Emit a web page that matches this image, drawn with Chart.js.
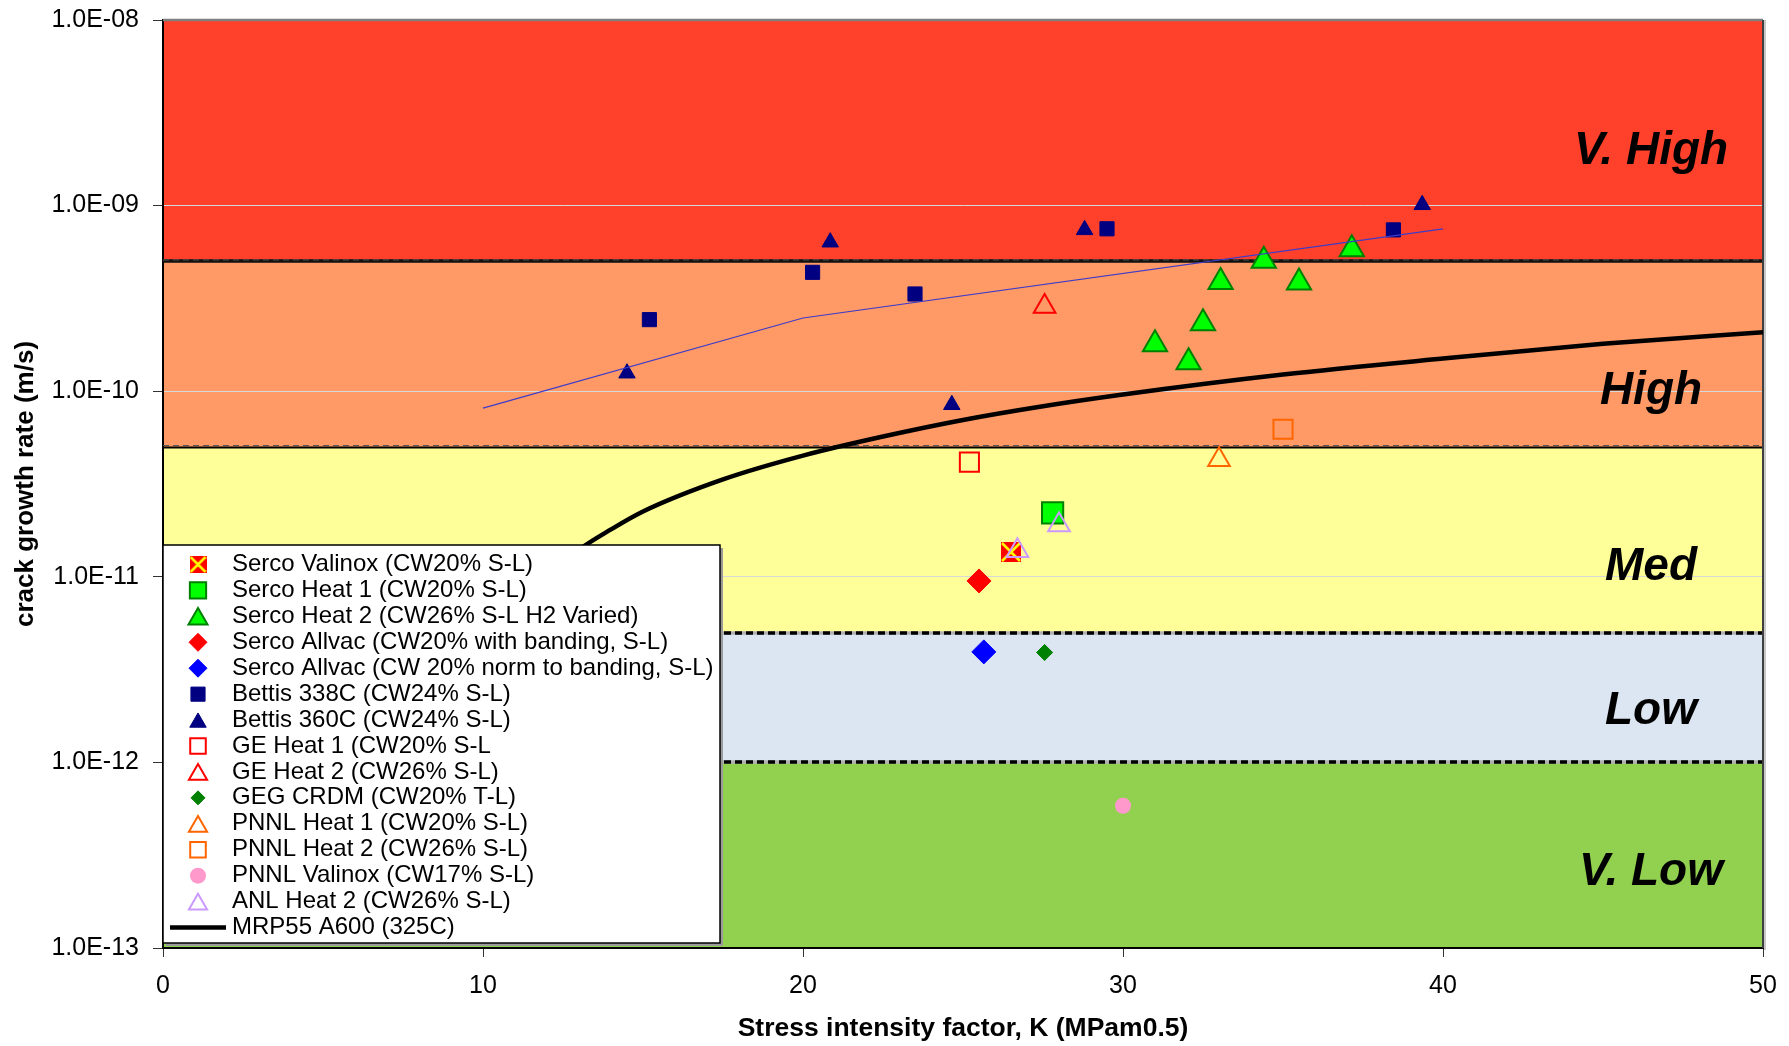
<!DOCTYPE html>
<html lang="en">
<head>
<meta charset="UTF-8">
<title>Crack growth rate vs stress intensity</title>
<script src="https://cdn.jsdelivr.net/npm/chart.js@4"></script>
<style>
    body { margin: 0; padding: 0; background: #fff; }
    #chartCanvas { display: block; }
</style>
</head>
<body>
<canvas id="chartCanvas" width="1789" height="1046"></canvas>
<script>
// axis ticks
const xTicks = [0, 10, 20, 30, 40, 50];
const yTicks = [1e-13, 1e-12, 1e-11, 1e-10, 1e-9, 1e-8];
const yTickLabels = ['1.0E-13', '1.0E-12', '1.0E-11', '1.0E-10', '1.0E-09', '1.0E-08'];

// rate bands (m/s)
const bandNames = ['V. High', 'High', 'Med', 'Low', 'V. Low'];
const bandTop = [1e-8, 5e-10, 5e-11, 5e-12, 1e-12];
const bandBottom = [5e-10, 5e-11, 5e-12, 1e-12, 1e-13];

// measured points, K in MPa.m^0.5, rate in m/s
const valinoxK = [26.5];
const valinoxRate = [1.36e-11];
const heat1K = [27.8];
const heat1Rate = [2.21e-11];
const heat2K = [31.0, 32.05, 32.5, 33.05, 34.4, 35.5, 37.15];
const heat2Rate = [1.79e-10, 1.43e-10, 2.32e-10, 3.88e-10, 5.04e-10, 3.85e-10, 5.82e-10];
const allvacBandK = [25.5];
const allvacBandRate = [9.5e-12];
const allvacNormK = [25.65];
const allvacNormRate = [3.94e-12];
const bettis338K = [15.2, 20.3, 23.5, 29.5, 38.45];
const bettis338Rate = [2.43e-10, 4.37e-10, 3.34e-10, 7.5e-10, 7.4e-10];
const bettis360K = [14.5, 20.85, 24.65, 28.8, 39.35];
const bettis360Rate = [1.25e-10, 6.35e-10, 8.45e-11, 7.4e-10, 1.01e-9];
const geHeat1K = [25.2];
const geHeat1Rate = [4.15e-11];
const geHeat2K = [27.55];
const geHeat2Rate = [2.86e-10];
const gegCrdmK = [27.55];
const gegCrdmRate = [3.91e-12];
const pnnlHeat1K = [33.0];
const pnnlHeat1Rate = [4.27e-11];
const pnnlHeat2K = [35.0];
const pnnlHeat2Rate = [6.24e-11];
const pnnlValinoxK = [30.0];
const pnnlValinoxRate = [5.84e-13];
const anlHeat2K = [26.7, 28.0];
const anlHeat2Rate = [1.38e-11, 1.90e-11];

// MRP55 disposition curve
const mrp55K = [10, 11, 12, 13, 14, 15, 17.5, 20, 22.5, 25, 27.5, 30, 35, 40, 45, 50];
const mrp55Rate = [2.8e-12, 6.3e-12, 1.0e-11, 1.4e-11, 1.8e-11, 2.25e-11, 3.35e-11, 4.5e-11,
                   5.7e-11, 7.0e-11, 8.3e-11, 9.6e-11, 1.23e-10, 1.5e-10, 1.8e-10, 2.08e-10];

// thin fit line through the Bettis data
const bettisFitK = [10, 20, 40];
const bettisFitRate = [8.1e-11, 2.48e-10, 7.5e-10];

const pts = (xs, ys) => xs.map((x, i) => ({ x: x, y: ys[i] }));

const FONT = "'Liberation Sans', Arial, sans-serif";
Chart.defaults.font.family = FONT;
Chart.defaults.color = '#000';

const bandColors = ['#ff402b', '#ff9966', '#ffff99', '#dce6f2', '#92d050'];
const bandLabelK = 46.5;
const bandLabelRate = [1.96e-9, 1.0e-10, 1.13e-11, 1.89e-12, 2.57e-13];

function valinoxMarker(size) {
    const c = document.createElement('canvas');
    c.width = c.height = size;
    const g = c.getContext('2d');
    g.fillStyle = '#ff0000';
    g.fillRect(0, 0, size, size);
    g.strokeStyle = '#ffff00';
    g.lineWidth = 2.5;
    g.beginPath();
    g.moveTo(1, 1); g.lineTo(size - 1, size - 1);
    g.moveTo(size - 1, 1); g.lineTo(1, size - 1);
    g.stroke();
    return c;
}

const navy = '#000080';
const none = 'rgba(0,0,0,0)';

function series(label, data, style, r, fill, stroke, bw, legendR) {
    return {
        label: label, data: data, pointStyle: style, pointRadius: r,
        pointBackgroundColor: fill, pointBorderColor: stroke, pointBorderWidth: bw,
        backgroundColor: fill, borderColor: stroke, showLine: false, legendR: legendR
    };
}

const datasets = [
    series('Serco Valinox (CW20% S-L)', pts(valinoxK, valinoxRate), valinoxMarker(20), 10, '#ff0000', '#ffff00', 0, 0),
    series('Serco Heat 1 (CW20% S-L)', pts(heat1K, heat1Rate), 'rect', 15, '#00ff00', '#008000', 2, 11.5),
    series('Serco Heat 2 (CW26% S-L H2 Varied)', pts(heat2K, heat2Rate), 'triangle', 14, '#00ff00', '#008000', 2, 11),
    series('Serco Allvac (CW20% with banding, S-L)', pts(allvacBandK, allvacBandRate), 'rectRot', 12, '#ff0000', '#ff0000', 1, 9),
    series('Serco Allvac (CW 20% norm to banding, S-L)', pts(allvacNormK, allvacNormRate), 'rectRot', 12, '#0000ff', '#0000ff', 1, 9),
    series('Bettis 338C (CW24% S-L)', pts(bettis338K, bettis338Rate), 'rect', 10, navy, navy, 1, 10),
    series('Bettis 360C (CW24% S-L)', pts(bettis360K, bettis360Rate), 'triangle', 9.5, navy, navy, 1, 9.5),
    series('GE Heat 1 (CW20% S-L', pts(geHeat1K, geHeat1Rate), 'rect', 13.5, none, '#ff0000', 2, 11),
    series('GE Heat 2 (CW26% S-L)', pts(geHeat2K, geHeat2Rate), 'triangle', 12.5, none, '#ff0000', 2, 10.5),
    series('GEG CRDM (CW20% T-L)', pts(gegCrdmK, gegCrdmRate), 'rectRot', 8, '#008000', '#008000', 1, 7),
    series('PNNL Heat 1 (CW20% S-L)', pts(pnnlHeat1K, pnnlHeat1Rate), 'triangle', 12.5, none, '#ff6600', 2, 10.5),
    series('PNNL Heat 2 (CW26% S-L)', pts(pnnlHeat2K, pnnlHeat2Rate), 'rect', 13.5, none, '#ff6600', 2, 11),
    series('PNNL Valinox (CW17% S-L)', pts(pnnlValinoxK, pnnlValinoxRate), 'circle', 8, '#ff99cc', '#ff99cc', 0, 8),
    series('ANL Heat 2 (CW26% S-L)', pts(anlHeat2K, anlHeat2Rate), 'triangle', 12.5, none, '#cc99ff', 2, 10.5),
    {
        label: 'MRP55 A600 (325C)', data: pts(mrp55K, mrp55Rate), showLine: true,
        borderColor: '#000', backgroundColor: '#000', borderWidth: 4.5, pointRadius: 0,
        cubicInterpolationMode: 'monotone', isLine: true
    },
    {
        label: '', data: pts(bettisFitK, bettisFitRate), showLine: true,
        borderColor: '#3c3cc8', borderWidth: 1.2, pointRadius: 0, hideInLegend: true
    }
];
// later series sit on top, like the original
datasets.forEach((d, i) => { d.order = -i; });

function drawMarker(ctx, style, x, y, r) {
    ctx.beginPath();
    if (style === 'circle') {
        ctx.arc(x, y, r, 0, Math.PI * 2);
    } else if (style === 'rect') {
        const s = r * Math.SQRT1_2;
        ctx.rect(x - s, y - s, 2 * s, 2 * s);
    } else if (style === 'rectRot') {
        ctx.moveTo(x - r, y); ctx.lineTo(x, y - r);
        ctx.lineTo(x + r, y); ctx.lineTo(x, y + r);
        ctx.closePath();
    } else if (style === 'triangle') {
        y += r * 0.25;
        ctx.moveTo(x, y - r);
        ctx.lineTo(x + 0.866 * r, y + 0.5 * r);
        ctx.lineTo(x - 0.866 * r, y + 0.5 * r);
        ctx.closePath();
    }
}

const bandsPlugin = {
    id: 'bands',
    beforeDraw(chart) {
        const { ctx, chartArea: a, scales: { y } } = chart;
        ctx.save();
        bandNames.forEach((n, i) => {
            const t = y.getPixelForValue(bandTop[i]);
            const b = y.getPixelForValue(bandBottom[i]);
            ctx.fillStyle = bandColors[i];
            ctx.fillRect(a.left, t, a.right - a.left, b - t);
        });
        ctx.restore();
    },
    beforeDatasetsDraw(chart) {
        const { ctx, chartArea: a, scales: { x, y } } = chart;
        ctx.save();
        // band boundaries
        const line = (py, color, w, dash) => {
            ctx.strokeStyle = color;
            ctx.lineWidth = w;
            ctx.setLineDash(dash || []);
            ctx.beginPath();
            ctx.moveTo(a.left, py);
            ctx.lineTo(a.right, py);
            ctx.stroke();
        };
        const b0 = Math.round(y.getPixelForValue(bandBottom[0]));
        line(b0, '#111', 3.5);
        line(b0 - 1, '#555', 1, [6, 4]);
        const b1 = Math.round(y.getPixelForValue(bandBottom[1]));
        line(b1 + 0.5, '#000', 2);
        line(b1 - 1.5, '#555', 1.2, [6, 4]);
        [bandBottom[2], bandBottom[3]].forEach(v => {
            const p = Math.round(y.getPixelForValue(v));
            line(p, '#b0b0b0', 3.5);
            line(p, '#000', 3.5, [7, 4]);
        });
        ctx.setLineDash([]);
        // frame top / right
        ctx.strokeStyle = '#808080';
        ctx.lineWidth = 2.5;
        ctx.beginPath();
        ctx.moveTo(a.left, a.top);
        ctx.lineTo(a.right, a.top);
        ctx.stroke();
        ctx.strokeStyle = '#404040';
        ctx.lineWidth = 2;
        ctx.beginPath();
        ctx.moveTo(a.right, a.top);
        ctx.lineTo(a.right, a.bottom);
        ctx.stroke();
        ctx.strokeStyle = '#c8c8c8';
        ctx.beginPath();
        ctx.moveTo(a.right + 2, a.top);
        ctx.lineTo(a.right + 2, a.bottom + 2);
        ctx.stroke();
        // band names
        ctx.fillStyle = '#000';
        ctx.font = 'italic bold 46px ' + FONT;
        ctx.textAlign = 'center';
        ctx.textBaseline = 'middle';
        bandNames.forEach((n, i) => {
            ctx.fillText(n, x.getPixelForValue(bandLabelK), y.getPixelForValue(bandLabelRate[i]));
        });
        ctx.restore();
    }
};

const legendMark = valinoxMarker(17);

const boxLegend = {
    id: 'boxLegend',
    afterDraw(chart) {
        const { ctx, chartArea: a } = chart;
        const bx = a.left, by = 545, bw = 557, bh = 398;
        ctx.save();
        ctx.fillStyle = '#9a9a9a';
        ctx.fillRect(bx + 3, by + 3, bw, bh);
        ctx.fillStyle = '#fff';
        ctx.fillRect(bx, by, bw, bh);
        ctx.strokeStyle = '#000';
        ctx.lineWidth = 1.5;
        ctx.strokeRect(bx, by, bw, bh);

        const items = chart.data.datasets.filter(d => !d.hideInLegend);
        const mx = bx + 35, tx = bx + 69;
        ctx.font = '24px ' + FONT;
        ctx.textBaseline = 'middle';
        ctx.textAlign = 'left';
        items.forEach((d, i) => {
            const ry = by + 19.5 + i * 25.93;
            if (d.isLine) {
                ctx.strokeStyle = d.borderColor;
                ctx.lineWidth = 4.5;
                ctx.beginPath();
                ctx.moveTo(bx + 7, ry);
                ctx.lineTo(bx + 63, ry);
                ctx.stroke();
            } else if (typeof d.pointStyle !== 'string') {
                ctx.drawImage(legendMark, mx - 8.5, ry - 8.5);
            } else {
                drawMarker(ctx, d.pointStyle, mx, ry, d.legendR);
                if (d.pointBackgroundColor !== none) {
                    ctx.fillStyle = d.pointBackgroundColor;
                    ctx.fill();
                }
                if (d.pointBorderWidth > 0) {
                    ctx.strokeStyle = d.pointBorderColor;
                    ctx.lineWidth = d.pointBorderWidth;
                    ctx.stroke();
                }
            }
            ctx.fillStyle = '#000';
            ctx.fillText(d.label, tx, ry);
        });
        ctx.restore();
    }
};

new Chart(document.getElementById('chartCanvas'), {
    type: 'scatter',
    data: { datasets: datasets },
    options: {
        responsive: false,
        animation: false,
        devicePixelRatio: 1,
        layout: { padding: { top: 20, right: 26, left: 0, bottom: 0 } },
        plugins: {
            legend: { display: false },
            tooltip: { enabled: false }
        },
        scales: {
            x: {
                type: 'linear',
                min: 0,
                max: 50,
                afterBuildTicks: s => { s.ticks = xTicks.map(v => ({ value: v })); },
                afterFit: s => {
                    s.height = 98;
                    s.paddingLeft = 0;
                    s.paddingRight = 0;
                },
                grid: { drawOnChartArea: false, tickLength: 9, color: '#333', tickColor: '#333' },
                border: { color: '#000', width: 2 },
                ticks: { font: { size: 25 }, color: '#000', padding: 14, maxRotation: 0 },
                title: {
                    display: true,
                    text: 'Stress intensity factor, K (MPam0.5)',
                    font: { size: 26.5, weight: 'bold' },
                    color: '#000',
                    padding: { top: 0, bottom: 1 }
                }
            },
            y: {
                type: 'logarithmic',
                min: 1e-13,
                max: 1e-8,
                afterBuildTicks: s => { s.ticks = yTicks.map(v => ({ value: v })); },
                afterFit: s => {
                    s.width = 163;
                    s.paddingTop = 0;
                    s.paddingBottom = 0;
                },
                grid: { color: '#d9d9d9', lineWidth: 1, tickLength: 10, tickColor: '#333' },
                border: { color: '#000', width: 2 },
                ticks: {
                    font: { size: 25 },
                    color: '#000',
                    padding: 14,
                    callback: (v, i) => yTickLabels[i]
                },
                title: {
                    display: true,
                    text: 'crack growth rate (m/s)',
                    font: { size: 26, weight: 'bold' },
                    color: '#000',
                    padding: { top: 10, bottom: 10 }
                }
            }
        }
    },
    plugins: [bandsPlugin, boxLegend]
});
</script>
</body>
</html>
